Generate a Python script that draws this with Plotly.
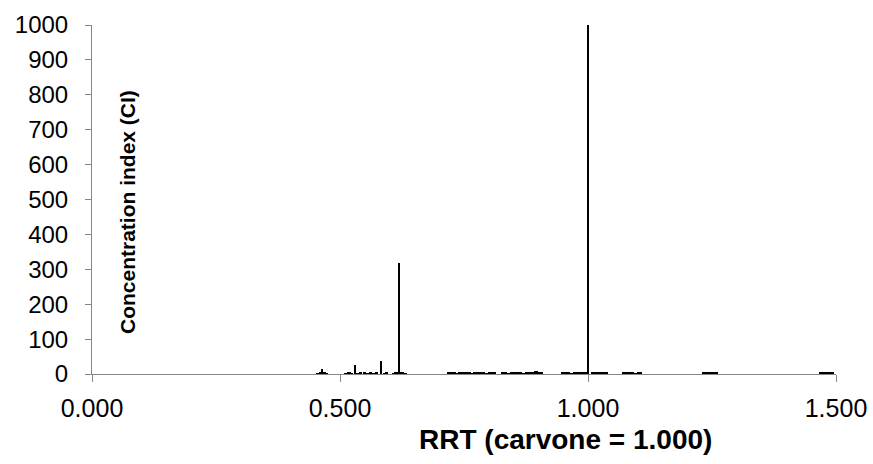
import plotly.graph_objects as go

# Relative retention times (carvone = 1.000) and concentration index of each peak
rrt = [
    0.455, 0.460, 0.464, 0.468, 0.473,
    0.512, 0.518, 0.524, 0.530, 0.536, 0.542, 0.550, 0.556, 0.562, 0.568,
    0.574, 0.583, 0.589, 0.594,
    0.608, 0.613, 0.619, 0.625, 0.631,
    0.718, 0.724, 0.730, 0.736, 0.742, 0.748, 0.754, 0.760, 0.766, 0.772,
    0.778, 0.784, 0.790, 0.796, 0.802, 0.808, 0.812,
    0.827, 0.833, 0.839, 0.845, 0.851, 0.857, 0.863, 0.869,
    0.877, 0.883, 0.889, 0.895, 0.901, 0.907,
    0.948, 0.954, 0.960, 0.966, 0.972, 0.978, 0.984, 0.990, 0.995, 1.000,
    1.010, 1.016, 1.022, 1.028, 1.034, 1.038,
    1.071, 1.077, 1.083, 1.089, 1.095, 1.101, 1.105,
    1.234, 1.240, 1.246, 1.252, 1.258,
    1.468, 1.474, 1.480, 1.486, 1.492,
]
ci = [
    2, 3, 14, 3, 2,
    2, 3, 2, 26, 2, 3, 6, 2, 3, 2,
    3, 38, 2, 3,
    2, 3, 318, 3, 2,
    3, 4, 3, 2, 4, 3, 3, 4, 2, 3,
    4, 3, 3, 2, 4, 3, 3,
    3, 4, 2, 3, 3, 4, 3, 2,
    3, 4, 3, 8, 3, 4,
    3, 4, 3, 2, 3, 4, 3, 3, 4, 1000,
    3, 4, 3, 3, 4, 3,
    3, 4, 3, 3, 2, 4, 3,
    3, 4, 3, 4, 3,
    3, 4, 3, 4, 3,
]

x_ticks = [0.0, 0.5, 1.0, 1.5]
x_tick_text = ["0.000", "0.500", "1.000", "1.500"]
y_ticks = list(range(0, 1001, 100))

FONT = "Liberation Sans, Arial, sans-serif"

# tall peaks drawn as thin spikes, trace-level peaks slightly wider so they merge
bar_widths = [0.0048 if v >= 10 else 0.0064 for v in ci]

fig = go.Figure(
    go.Bar(
        x=rrt,
        y=ci,
        width=bar_widths,
        marker=dict(color="black", line=dict(width=0)),
        hoverinfo="x+y",
    )
)

fig.update_layout(
    width=873,
    height=464,
    margin=dict(l=92, r=37, t=25, b=90),
    paper_bgcolor="white",
    plot_bgcolor="white",
    showlegend=False,
    font=dict(family=FONT, color="black", size=24),
    bargap=0,
)

fig.update_xaxes(
    range=[0, 1.5],
    tickvals=x_ticks,
    ticktext=x_tick_text,
    showgrid=False,
    zeroline=False,
    showline=True,
    linecolor="#868686",
    linewidth=1,
    ticks="outside",
    ticklen=7,
    tickcolor="#868686",
    tickfont=dict(size=25),
    ticklabelstandoff=5,
    layer="below traces",
    automargin=False,
)
fig.update_yaxes(
    range=[0, 1000],
    tickvals=y_ticks,
    showgrid=False,
    zeroline=False,
    showline=True,
    linecolor="#868686",
    linewidth=1,
    ticks="outside",
    ticklen=6,
    tickcolor="#868686",
    tickfont=dict(size=24),
    ticklabelstandoff=12,
    layer="below traces",
    automargin=False,
)

fig.add_annotation(
    text="<b>Concentration index (CI)</b>",
    xref="paper", yref="paper",
    x=0.047, y=0.464,
    xanchor="center", yanchor="middle",
    textangle=-90,
    showarrow=False,
    font=dict(size=21, family=FONT, color="black"),
)
fig.add_annotation(
    text="<b>RRT (carvone = 1.000)</b>",
    xref="paper", yref="paper",
    x=0.636, y=-0.189,
    xanchor="center", yanchor="middle",
    showarrow=False,
    font=dict(size=28, family=FONT, color="black"),
)

fig.write_html("out.html")
